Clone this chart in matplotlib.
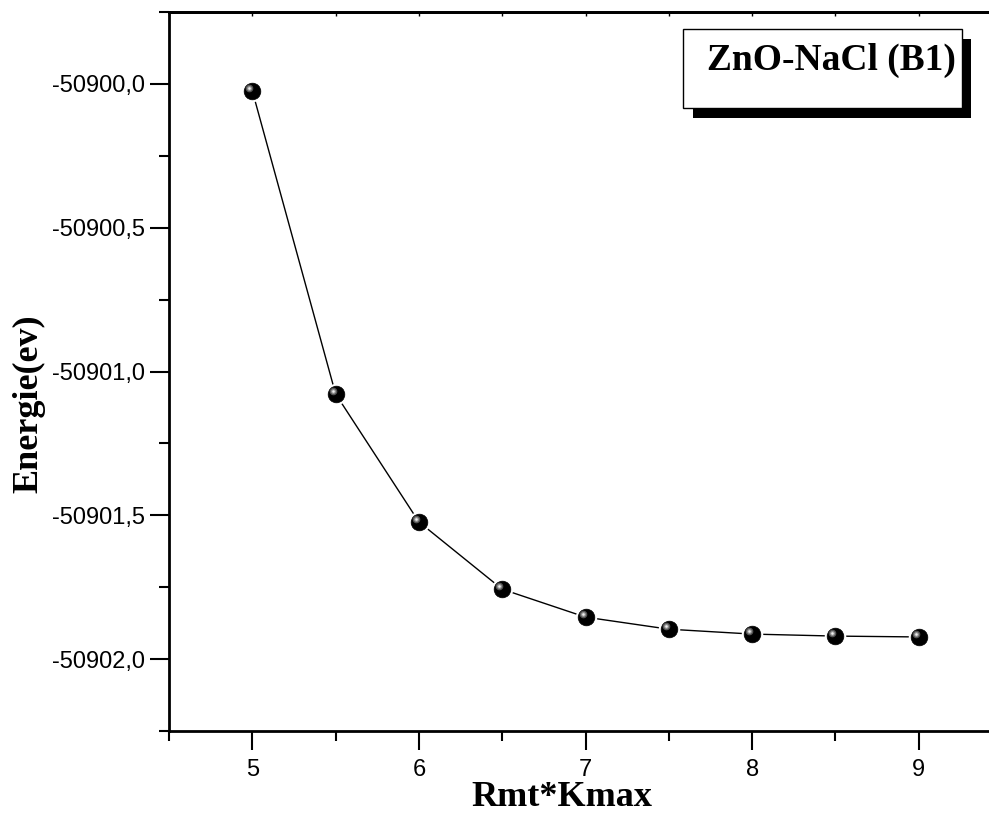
import matplotlib
matplotlib.use("Agg")
import matplotlib.pyplot as plt
import matplotlib.transforms as mtransforms
from matplotlib.patches import Rectangle
from matplotlib.ticker import MultipleLocator, FuncFormatter

# data
rkmax = [5.0, 5.5, 6.0, 6.5, 7.0, 7.5, 8.0, 8.5, 9.0]
energie = [-50900.024, -50901.078, -50901.523, -50901.757, -50901.854,
           -50901.896, -50901.913, -50901.920, -50901.923]
titre = 'ZnO-NaCl (B1)'
xlab = 'Rmt*Kmax'
ylab = 'Energie(ev)'

W, H = 989, 814
fig = plt.figure(figsize=(W / 100, H / 100), dpi=100)
ax = fig.add_axes([169 / W, 1 - 731 / H, (1002 - 169) / W, (731 - 12) / H])

serif = ['Liberation Serif', 'DejaVu Serif']
sans = ['Liberation Sans', 'DejaVu Sans']

# line with small gaps at the markers (white edge)
ax.plot(rkmax, energie, '-', color='black', lw=1.0,
        marker='o', ms=13, mfc='black', mec='white', mew=2.5, zorder=3)
ax.plot(rkmax, energie, 'o', ms=12, mfc='black', mec='black', mew=0.5, zorder=4)
# shiny highlight of the spheres
off = mtransforms.offset_copy(ax.transData, fig=fig, x=-3, y=3, units='dots')
ax.plot(rkmax, energie, 'o', ms=5.5, mfc='#555555', mec='none', transform=off, zorder=5)
ax.plot(rkmax, energie, 'o', ms=3.5, mfc='#999999', mec='none', transform=off, zorder=6)
ax.plot(rkmax, energie, 'o', ms=1.8, mfc='#eeeeee', mec='none', transform=off, zorder=7)

ax.set_xlim(4.5, 9.5)
ax.set_ylim(-50902.25, -50899.75)
ax.xaxis.set_major_locator(MultipleLocator(1))
ax.xaxis.set_minor_locator(MultipleLocator(0.5))
ax.yaxis.set_major_locator(MultipleLocator(0.5))
ax.yaxis.set_minor_locator(MultipleLocator(0.25))
ax.yaxis.set_major_formatter(FuncFormatter(lambda v, p: ('%.1f' % v).replace('.', ',')))

ax.tick_params(which='major', direction='out', length=14, width=1.5,
               labelsize=17, pad=6, top=False, right=False)
ax.tick_params(axis='y', which='major', pad=3)
ax.tick_params(which='minor', direction='out', length=7, width=1.5,
               top=False, right=False)
for lab in ax.get_xticklabels() + ax.get_yticklabels():
    lab.set_family(sans)

ax2 = ax.secondary_xaxis('top')
ax2.xaxis.set_major_locator(MultipleLocator(0.5))
ax2.tick_params(direction='in', length=3, width=1, labeltop=False)
ax2.spines['top'].set_linewidth(2)

for s in ax.spines.values():
    s.set_linewidth(2)

ax.set_xlabel(xlab, fontsize=26, fontweight='bold', family=serif)
ax.xaxis.set_label_coords((562 - 169) / (1002 - 169), -(797 - 731) / (731 - 12))
ax.xaxis.label.set_va('center')
ax.set_ylabel(ylab, fontsize=26, fontweight='bold', family=serif)
ax.yaxis.set_label_coords(-(169 - 29) / (1002 - 169), (731 - 404) / (731 - 12))
ax.yaxis.label.set_va('center')

# title box with shadow
def px_rect(x0, y0, x1, y1, **kw):
    return Rectangle((x0 / W, 1 - y1 / H), (x1 - x0) / W, (y1 - y0) / H,
                     transform=fig.transFigure, **kw)

fig.patches.append(px_rect(693, 39, 971, 118, facecolor='black', edgecolor='none', zorder=1))
fig.patches.append(px_rect(683, 29, 962, 108, facecolor='white', edgecolor='black', lw=1, zorder=2))
fig.text(831 / W, 1 - 60 / H, titre, fontsize=27, fontweight='bold', family=serif,
         ha='center', va='center', zorder=3)

fig.savefig('out.png', dpi=100)
